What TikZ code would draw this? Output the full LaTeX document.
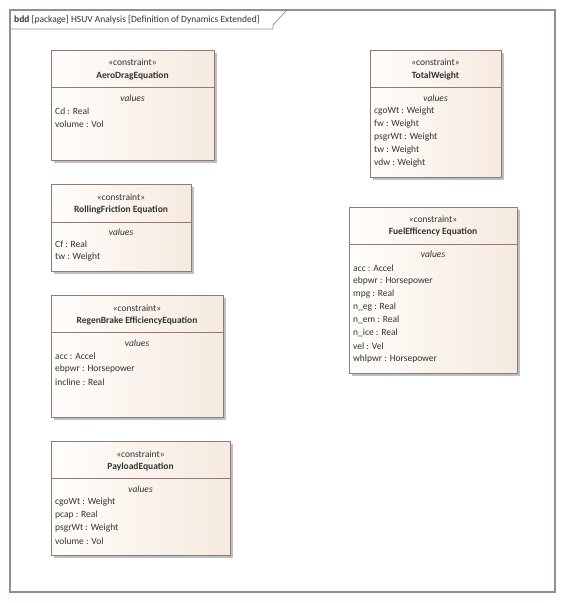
\documentclass[tikz,border=0pt]{standalone}
\usepackage{fontspec}
\setmainfont{Carlito}
\usetikzlibrary{positioning,calc,shadows}
\definecolor{boxline}{HTML}{8E7B78}
\definecolor{frameline}{HTML}{9A8C8C}
\definecolor{boxfillL}{HTML}{FFFDFB}
\definecolor{boxfillR}{HTML}{F6EADF}
\definecolor{txt}{HTML}{333333}

\begin{document}
\begin{tikzpicture}[x=1pt, y=-1pt,
  cbox/.style={draw=boxline, line width=0.7pt, left color=boxfillL, right color=boxfillR,
               anchor=north west, inner sep=0pt,
               drop shadow={shadow xshift=2.5pt, shadow yshift=-2.5pt, fill=black!25, opacity=1}},
  divline/.style={draw=boxline, line width=0.7pt},
  stereo/.style={font=\fontsize{9.5}{11}\selectfont, text=txt, inner sep=0pt},
  bname/.style={font=\fontsize{9.5}{11}\selectfont\bfseries, text=txt, inner sep=0pt},
  vhdr/.style={font=\fontsize{9.5}{11}\selectfont\itshape, text=txt, inner sep=0pt},
  attr/.style={font=\fontsize{9.5}{11}\selectfont, text=txt, anchor=west, inner sep=0pt}
]
\useasboundingbox[fill=white] (0,0) rectangle (565,603);
% Frame
\draw[frameline, line width=1.3pt] (10,10) rectangle (555,592);
\draw[frameline, line width=0.7pt] (10,29) -- (273,29) -- (273,25) -- (286,11);
\node[attr] (title) at (14,20)
  {\textbf{bdd} [package] HSUV Analysis [Definition of Dynamics Extended]};
% AeroDragEquation
\node[cbox, minimum width=163pt, minimum height=110pt] (aero) at (51,50) {};
\draw[divline] (51,87) -- (214,87);
\node[stereo] (aeroS) at (132.5,62) {«constraint»};
\node[bname] (aeroN) at (132.5,76) {AeroDragEquation};
\node[vhdr] (aeroV) at (132.5,98) {values};
\node[attr] (aero1) at (55,111) {Cd : Real};
\node[attr] (aero2) at (55,124) {volume : Vol};
% RollingFriction Equation
\node[cbox, minimum width=140pt, minimum height=87pt] (roll) at (51,184) {};
\draw[divline] (51,222) -- (191,222);
\node[stereo] (rollS) at (121,197) {«constraint»};
\node[bname] (rollN) at (121,210) {RollingFriction Equation};
\node[vhdr] (rollV) at (121,232) {values};
\node[attr] (roll1) at (55,244) {Cf : Real};
\node[attr] (roll2) at (55,257) {tw : Weight};
% RegenBrake EfficiencyEquation
\node[cbox, minimum width=172pt, minimum height=122pt] (regen) at (51,295) {};
\draw[divline] (51,332) -- (223,332);
\node[stereo] (regenS) at (137,308) {«constraint»};
\node[bname] (regenN) at (137,321) {RegenBrake EfficiencyEquation};
\node[vhdr] (regenV) at (137,343) {values};
\node[attr] (regen1) at (55,356) {acc : Accel};
\node[attr] (regen2) at (55,369) {ebpwr : Horsepower};
\node[attr] (regen3) at (55,382) {incline : Real};
% PayloadEquation
\node[cbox, minimum width=179pt, minimum height=114pt] (pay) at (51,441) {};
\draw[divline] (51,478) -- (230,478);
\node[stereo] (payS) at (140.5,454) {«constraint»};
\node[bname] (payN) at (140.5,467) {PayloadEquation};
\node[vhdr] (payV) at (140.5,489) {values};
\node[attr] (pay1) at (55,502) {cgoWt : Weight};
\node[attr] (pay2) at (55,515) {pcap : Real};
\node[attr] (pay3) at (55,528) {psgrWt : Weight};
\node[attr] (pay4) at (55,541) {volume : Vol};
% TotalWeight
\node[cbox, minimum width=131pt, minimum height=127pt] (total) at (370,50) {};
\draw[divline] (370,87) -- (501,87);
\node[stereo] (totalS) at (435.5,62) {«constraint»};
\node[bname] (totalN) at (435.5,76) {TotalWeight};
\node[vhdr] (totalV) at (435.5,98) {values};
\node[attr] (total1) at (374,111) {cgoWt : Weight};
\node[attr] (total2) at (374,124) {fw : Weight};
\node[attr] (total3) at (374,137) {psgrWt : Weight};
\node[attr] (total4) at (374,150) {tw : Weight};
\node[attr] (total5) at (374,163) {vdw : Weight};
% FuelEfficency Equation
\node[cbox, minimum width=168pt, minimum height=166pt] (fuel) at (349,207) {};
\draw[divline] (349,244) -- (517,244);
\node[stereo] (fuelS) at (433,219) {«constraint»};
\node[bname] (fuelN) at (433,232) {FuelEfficency Equation};
\node[vhdr] (fuelV) at (433,254) {values};
\node[attr] (fuel1) at (353,268) {acc : Accel};
\node[attr] (fuel2) at (353,281) {ebpwr : Horsepower};
\node[attr] (fuel3) at (353,294) {mpg : Real};
\node[attr] (fuel4) at (353,307) {n\_eg : Real};
\node[attr] (fuel5) at (353,320) {n\_em : Real};
\node[attr] (fuel6) at (353,333) {n\_ice : Real};
\node[attr] (fuel7) at (353,346) {vel : Vel};
\node[attr] (fuel8) at (353,359) {whlpwr : Horsepower};
\end{tikzpicture}
\end{document}
